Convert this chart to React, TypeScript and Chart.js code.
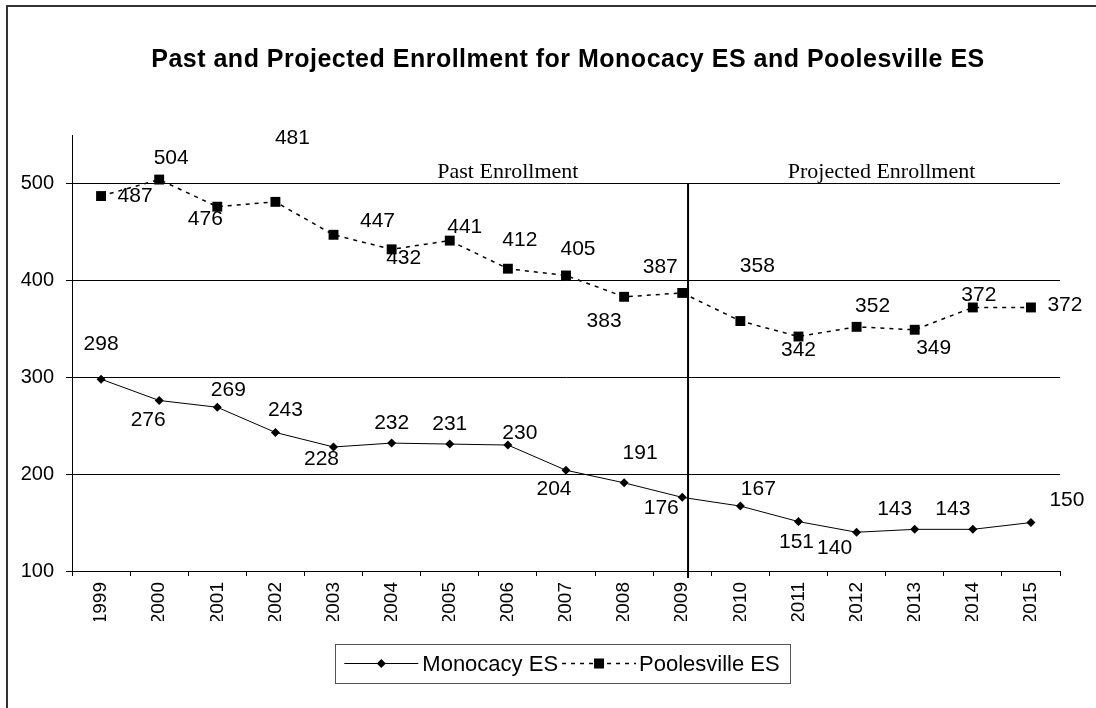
import React, { useEffect, useRef } from 'react';
import { Chart, registerables } from 'chart.js';

Chart.register(...registerables);

const years = ['1999', '2000', '2001', '2002', '2003', '2004', '2005', '2006', '2007', '2008', '2009', '2010', '2011', '2012', '2013', '2014', '2015'];
const monocacy = [298, 276, 269, 243, 228, 232, 231, 230, 204, 191, 176, 167, 151, 140, 143, 143, 150];
const poolesville = [487, 504, 476, 481, 447, 432, 441, 412, 405, 383, 387, 358, 342, 352, 349, 372, 372];
const yTicks = [100, 200, 300, 400, 500];
const seriesNames = ['Monocacy ES', 'Poolesville ES'];
const titleText = 'Past and Projected Enrollment for Monocacy ES and Poolesville ES';
const periodLabels = ['Past Enrollment', 'Projected Enrollment'];
const dividerIndex = 10; // 2009

// label placement (pixel offsets from each point), style only
const monoLabelOffsets: [number, number][] = [
  [0, -35], [-11, 20], [11, -17], [10, -22], [-12, 12], [0, -20], [0, -20], [12, -12], [-12, 19],
  [16, -30], [-21, 11], [18, -17], [-2, 21], [-22, 16], [-20, -20], [-20, -20], [36, -22],
];
const pooleLabelOffsets: [number, number][] = [
  [34, 0], [12, -21], [-12, 13], [17, -64], [44, -14], [12, 9], [15, -13], [12, -29], [12, -26],
  [-20, 24], [-22, -26], [17, -55], [0, 14], [16, -21], [19, 18], [6, -12], [34, -2],
];

const SANS = 'Arial, "Liberation Sans", sans-serif';
const SERIF = '"Times New Roman", "Liberation Serif", serif';

const customPlugin = {
  id: 'customDecor',
  afterDraw(chart: any) {
    const { ctx, chartArea, scales } = chart;
    const xs = scales.x;
    const ys = scales.y;
    ctx.save();

    // outer frame
    ctx.strokeStyle = '#333';
    ctx.lineWidth = 2;
    ctx.strokeRect(7, 6, 1100, 712);

    // title
    ctx.fillStyle = '#000';
    ctx.font = `bold 25px ${SANS}`;
    ctx.textAlign = 'center';
    ctx.textBaseline = 'alphabetic';
    try {
      (ctx as any).letterSpacing = '0.5px';
    } catch (e) {
      /* ignore */
    }
    ctx.fillText(titleText, 568, 67);
    try {
      (ctx as any).letterSpacing = '0px';
    } catch (e) {
      /* ignore */
    }

    // divider line
    const step = xs.getPixelForValue(1) - xs.getPixelForValue(0);
    const xd = xs.getPixelForValue(dividerIndex) + 0.1 * step;
    ctx.strokeStyle = '#000';
    ctx.lineWidth = 2;
    ctx.beginPath();
    ctx.moveTo(xd, ys.getPixelForValue(500));
    ctx.lineTo(xd, chartArea.bottom + 7);
    ctx.stroke();

    // period labels
    ctx.font = `22px ${SERIF}`;
    ctx.textAlign = 'center';
    const yb = ys.getPixelForValue(500) - 5;
    ctx.fillText(periodLabels[0], xs.getPixelForValue(7), yb);
    ctx.fillText(periodLabels[1], xs.getPixelForValue(13.43), yb);

    // data labels
    ctx.font = `21px ${SANS}`;
    ctx.textBaseline = 'middle';
    const offsets = [monoLabelOffsets, pooleLabelOffsets];
    const values = [monocacy, poolesville];
    [0, 1].forEach((di) => {
      const meta = chart.getDatasetMeta(di);
      meta.data.forEach((pt: any, i: number) => {
        const [dx, dy] = offsets[di][i];
        ctx.fillText(String(values[di][i]), pt.x + dx, pt.y + dy);
      });
    });

    // legend
    ctx.font = `22px ${SANS}`;
    const lineLen = 74;
    const w1 = ctx.measureText(seriesNames[0]).width;
    const w2 = ctx.measureText(seriesNames[1]).width;
    const total = 9 + lineLen + 4 + w1 + 4 + lineLen + 3 + w2 + 11;
    const cx = (chartArea.left + chartArea.right) / 2 - 3;
    const left = cx - total / 2;
    const top = 644;
    const h = 39;
    const my = top + h / 2;
    ctx.strokeStyle = '#555';
    ctx.lineWidth = 1;
    ctx.strokeRect(Math.round(left) + 0.5, top + 0.5, Math.round(total), h);

    let x = left + 9;
    // Monocacy entry
    ctx.strokeStyle = '#000';
    ctx.lineWidth = 1;
    ctx.setLineDash([]);
    ctx.beginPath();
    ctx.moveTo(x, my);
    ctx.lineTo(x + lineLen, my);
    ctx.stroke();
    ctx.fillStyle = '#000';
    ctx.beginPath();
    const mx1 = x + lineLen / 2;
    ctx.moveTo(mx1 - 4.5, my);
    ctx.lineTo(mx1, my - 4.5);
    ctx.lineTo(mx1 + 4.5, my);
    ctx.lineTo(mx1, my + 4.5);
    ctx.closePath();
    ctx.fill();
    x += lineLen + 4;
    ctx.textAlign = 'left';
    ctx.textBaseline = 'middle';
    ctx.fillText(seriesNames[0], x, my + 1);
    x += w1 + 4;
    // Poolesville entry
    ctx.lineWidth = 1.5;
    ctx.setLineDash([4, 5]);
    ctx.beginPath();
    ctx.moveTo(x, my);
    ctx.lineTo(x + lineLen, my);
    ctx.stroke();
    ctx.setLineDash([]);
    const mx2 = x + lineLen / 2;
    ctx.fillRect(mx2 - 5, my - 5, 10, 10);
    x += lineLen + 3;
    ctx.fillText(seriesNames[1], x, my + 1);

    ctx.restore();
  },
};

export default function App() {
  const ref = useRef<HTMLCanvasElement>(null);
  useEffect(() => {
    const canvas = ref.current;
    if (!canvas) return;
    const chart = new Chart(canvas, {
      type: 'line',
      data: {
        labels: years,
        datasets: [
          {
            label: seriesNames[0],
            data: monocacy,
            borderColor: '#000',
            backgroundColor: '#000',
            borderWidth: 1,
            pointStyle: 'rectRot',
            pointRadius: 4.5,
            pointBorderWidth: 0,
            tension: 0,
            fill: false,
          },
          {
            label: seriesNames[1],
            data: poolesville,
            borderColor: '#000',
            backgroundColor: '#000',
            borderWidth: 1.5,
            borderDash: [4, 5],
            pointStyle: 'rect',
            pointRadius: 7,
            pointBorderWidth: 0,
            tension: 0,
            fill: false,
          },
        ],
      },
      options: {
        responsive: false,
        animation: false,
        devicePixelRatio: 1,
        layout: { padding: { top: 135, right: 36, bottom: 87, left: 0 } },
        plugins: {
          legend: { display: false },
          title: { display: false },
          tooltip: { enabled: false },
        },
        scales: {
          x: {
            type: 'category',
            offset: true,
            grid: { offset: true, drawOnChartArea: false, drawTicks: true, tickLength: 5, color: '#000', lineWidth: 1 },
            border: { display: true, color: '#000', width: 1 },
            ticks: {
              minRotation: 90,
              maxRotation: 90,
              autoSkip: false,
              color: '#000',
              font: { family: SANS, size: 19 },
              padding: 6,
            },
            afterFit: (s: any) => {
              s.height = 50;
            },
          },
          y: {
            min: 100,
            max: 550,
            afterBuildTicks: (s: any) => {
              s.ticks = yTicks.map((v) => ({ value: v }));
            },
            grid: { color: '#000', lineWidth: 1, tickLength: 6 },
            border: { display: true, color: '#000', width: 1 },
            ticks: { color: '#000', font: { family: SANS, size: 20 }, padding: 12 },
            afterFit: (s: any) => {
              s.width = 72;
            },
          },
        },
      },
      plugins: [customPlugin],
    } as any);
    return () => chart.destroy();
  }, []);

  return (
    <div style={{ position: 'fixed', left: 0, top: 0, width: 1096, height: 708, background: '#fff' }}>
      <canvas ref={ref} width={1096} height={708} style={{ display: 'block' }} />
    </div>
  );
}
